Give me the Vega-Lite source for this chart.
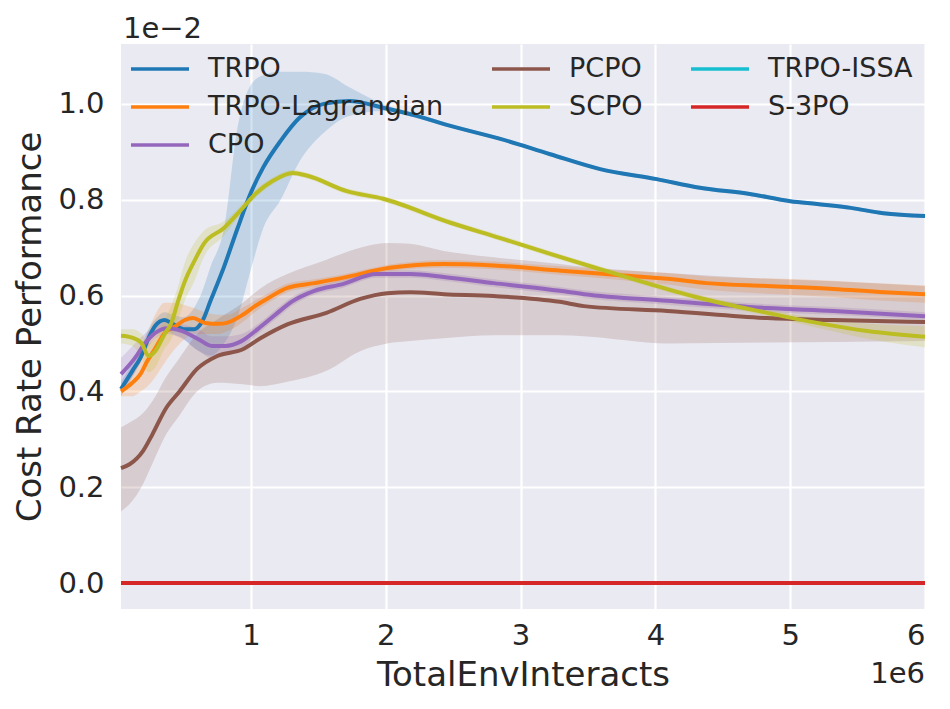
{
  "$schema": "https://vega.github.io/schema/vega-lite/v6.json",
  "width": 804,
  "height": 565,
  "autosize": {"type": "none"},
  "padding": {"left": 121, "top": 44, "right": 25, "bottom": 100},
  "background": "#ffffff",
  "datasets": {
    "runs": [
      {"s": "TRPO", "x": 0.036, "y": 0.405, "lo": 0.39, "hi": 0.42},
      {"s": "TRPO", "x": 0.12, "y": 0.443, "lo": 0.43, "hi": 0.46},
      {"s": "TRPO", "x": 0.18, "y": 0.47, "lo": 0.46, "hi": 0.49},
      {"s": "TRPO", "x": 0.24, "y": 0.511, "lo": 0.5, "hi": 0.53},
      {"s": "TRPO", "x": 0.29, "y": 0.537, "lo": 0.52, "hi": 0.55},
      {"s": "TRPO", "x": 0.36, "y": 0.549, "lo": 0.53, "hi": 0.565},
      {"s": "TRPO", "x": 0.42, "y": 0.541, "lo": 0.52, "hi": 0.56},
      {"s": "TRPO", "x": 0.5, "y": 0.53, "lo": 0.51, "hi": 0.555},
      {"s": "TRPO", "x": 0.58, "y": 0.53, "lo": 0.49, "hi": 0.575},
      {"s": "TRPO", "x": 0.64, "y": 0.547, "lo": 0.48, "hi": 0.61},
      {"s": "TRPO", "x": 0.7, "y": 0.589, "lo": 0.475, "hi": 0.66},
      {"s": "TRPO", "x": 0.8, "y": 0.66, "lo": 0.5, "hi": 0.74},
      {"s": "TRPO", "x": 0.9, "y": 0.74, "lo": 0.555, "hi": 0.95},
      {"s": "TRPO", "x": 1.0, "y": 0.815, "lo": 0.655, "hi": 1.04},
      {"s": "TRPO", "x": 1.09, "y": 0.867, "lo": 0.74, "hi": 1.06},
      {"s": "TRPO", "x": 1.22, "y": 0.923, "lo": 0.8, "hi": 1.067},
      {"s": "TRPO", "x": 1.36, "y": 0.971, "lo": 0.88, "hi": 1.067},
      {"s": "TRPO", "x": 1.54, "y": 1.0, "lo": 0.94, "hi": 1.063},
      {"s": "TRPO", "x": 1.73, "y": 1.006, "lo": 0.975, "hi": 1.035},
      {"s": "TRPO", "x": 1.98, "y": 0.992, "lo": 0.985, "hi": 1.0},
      {"s": "TRPO", "x": 2.23, "y": 0.975, "lo": 0.97, "hi": 0.98},
      {"s": "TRPO", "x": 2.48, "y": 0.954, "lo": 0.95, "hi": 0.958},
      {"s": "TRPO", "x": 2.85, "y": 0.927, "lo": 0.923, "hi": 0.931},
      {"s": "TRPO", "x": 3.22, "y": 0.895, "lo": 0.891, "hi": 0.899},
      {"s": "TRPO", "x": 3.59, "y": 0.864, "lo": 0.86, "hi": 0.868},
      {"s": "TRPO", "x": 4.01, "y": 0.843, "lo": 0.839, "hi": 0.847},
      {"s": "TRPO", "x": 4.33, "y": 0.825, "lo": 0.821, "hi": 0.829},
      {"s": "TRPO", "x": 4.7, "y": 0.812, "lo": 0.808, "hi": 0.816},
      {"s": "TRPO", "x": 5.0, "y": 0.797, "lo": 0.793, "hi": 0.801},
      {"s": "TRPO", "x": 5.2, "y": 0.791, "lo": 0.787, "hi": 0.795},
      {"s": "TRPO", "x": 5.45, "y": 0.783, "lo": 0.779, "hi": 0.787},
      {"s": "TRPO", "x": 5.69, "y": 0.772, "lo": 0.768, "hi": 0.776},
      {"s": "TRPO", "x": 6.0, "y": 0.766, "lo": 0.762, "hi": 0.77},

      {"s": "TRPO-Lagrangian", "x": 0.036, "y": 0.4, "lo": 0.39, "hi": 0.41},
      {"s": "TRPO-Lagrangian", "x": 0.12, "y": 0.418, "lo": 0.39, "hi": 0.45},
      {"s": "TRPO-Lagrangian", "x": 0.18, "y": 0.436, "lo": 0.4, "hi": 0.48},
      {"s": "TRPO-Lagrangian", "x": 0.23, "y": 0.463, "lo": 0.41, "hi": 0.52},
      {"s": "TRPO-Lagrangian", "x": 0.29, "y": 0.49, "lo": 0.43, "hi": 0.56},
      {"s": "TRPO-Lagrangian", "x": 0.36, "y": 0.522, "lo": 0.46, "hi": 0.585},
      {"s": "TRPO-Lagrangian", "x": 0.44, "y": 0.536, "lo": 0.49, "hi": 0.585},
      {"s": "TRPO-Lagrangian", "x": 0.51, "y": 0.549, "lo": 0.51, "hi": 0.58},
      {"s": "TRPO-Lagrangian", "x": 0.57, "y": 0.553, "lo": 0.52, "hi": 0.575},
      {"s": "TRPO-Lagrangian", "x": 0.66, "y": 0.543, "lo": 0.52, "hi": 0.565},
      {"s": "TRPO-Lagrangian", "x": 0.76, "y": 0.541, "lo": 0.52, "hi": 0.56},
      {"s": "TRPO-Lagrangian", "x": 0.82, "y": 0.543, "lo": 0.525, "hi": 0.56},
      {"s": "TRPO-Lagrangian", "x": 0.94, "y": 0.56, "lo": 0.545, "hi": 0.575},
      {"s": "TRPO-Lagrangian", "x": 1.03, "y": 0.578, "lo": 0.566, "hi": 0.59},
      {"s": "TRPO-Lagrangian", "x": 1.13, "y": 0.595, "lo": 0.585, "hi": 0.605},
      {"s": "TRPO-Lagrangian", "x": 1.27, "y": 0.616, "lo": 0.607, "hi": 0.625},
      {"s": "TRPO-Lagrangian", "x": 1.47, "y": 0.626, "lo": 0.618, "hi": 0.634},
      {"s": "TRPO-Lagrangian", "x": 1.68, "y": 0.637, "lo": 0.63, "hi": 0.644},
      {"s": "TRPO-Lagrangian", "x": 2.03, "y": 0.658, "lo": 0.651, "hi": 0.665},
      {"s": "TRPO-Lagrangian", "x": 2.43, "y": 0.666, "lo": 0.658, "hi": 0.674},
      {"s": "TRPO-Lagrangian", "x": 2.8, "y": 0.663, "lo": 0.655, "hi": 0.671},
      {"s": "TRPO-Lagrangian", "x": 3.3, "y": 0.652, "lo": 0.643, "hi": 0.661},
      {"s": "TRPO-Lagrangian", "x": 3.72, "y": 0.643, "lo": 0.633, "hi": 0.653},
      {"s": "TRPO-Lagrangian", "x": 4.09, "y": 0.635, "lo": 0.623, "hi": 0.647},
      {"s": "TRPO-Lagrangian", "x": 4.38, "y": 0.626, "lo": 0.612, "hi": 0.64},
      {"s": "TRPO-Lagrangian", "x": 4.83, "y": 0.62, "lo": 0.604, "hi": 0.636},
      {"s": "TRPO-Lagrangian", "x": 5.32, "y": 0.614, "lo": 0.597, "hi": 0.631},
      {"s": "TRPO-Lagrangian", "x": 5.7, "y": 0.607, "lo": 0.589, "hi": 0.625},
      {"s": "TRPO-Lagrangian", "x": 6.0, "y": 0.603, "lo": 0.585, "hi": 0.621},

      {"s": "CPO", "x": 0.036, "y": 0.436, "lo": 0.4, "hi": 0.47},
      {"s": "CPO", "x": 0.14, "y": 0.47, "lo": 0.44, "hi": 0.5},
      {"s": "CPO", "x": 0.21, "y": 0.499, "lo": 0.48, "hi": 0.52},
      {"s": "CPO", "x": 0.29, "y": 0.522, "lo": 0.51, "hi": 0.535},
      {"s": "CPO", "x": 0.38, "y": 0.532, "lo": 0.52, "hi": 0.545},
      {"s": "CPO", "x": 0.49, "y": 0.526, "lo": 0.51, "hi": 0.54},
      {"s": "CPO", "x": 0.61, "y": 0.509, "lo": 0.485, "hi": 0.53},
      {"s": "CPO", "x": 0.71, "y": 0.495, "lo": 0.47, "hi": 0.515},
      {"s": "CPO", "x": 0.81, "y": 0.495, "lo": 0.475, "hi": 0.515},
      {"s": "CPO", "x": 0.93, "y": 0.505, "lo": 0.49, "hi": 0.52},
      {"s": "CPO", "x": 1.05, "y": 0.53, "lo": 0.52, "hi": 0.54},
      {"s": "CPO", "x": 1.18, "y": 0.56, "lo": 0.55, "hi": 0.57},
      {"s": "CPO", "x": 1.3, "y": 0.587, "lo": 0.578, "hi": 0.596},
      {"s": "CPO", "x": 1.47, "y": 0.61, "lo": 0.602, "hi": 0.618},
      {"s": "CPO", "x": 1.68, "y": 0.624, "lo": 0.616, "hi": 0.632},
      {"s": "CPO", "x": 1.93, "y": 0.645, "lo": 0.637, "hi": 0.653},
      {"s": "CPO", "x": 2.18, "y": 0.645, "lo": 0.637, "hi": 0.653},
      {"s": "CPO", "x": 2.43, "y": 0.639, "lo": 0.631, "hi": 0.647},
      {"s": "CPO", "x": 2.8, "y": 0.626, "lo": 0.618, "hi": 0.634},
      {"s": "CPO", "x": 3.29, "y": 0.61, "lo": 0.602, "hi": 0.618},
      {"s": "CPO", "x": 3.47, "y": 0.603, "lo": 0.595, "hi": 0.611},
      {"s": "CPO", "x": 4.09, "y": 0.589, "lo": 0.581, "hi": 0.597},
      {"s": "CPO", "x": 4.83, "y": 0.574, "lo": 0.566, "hi": 0.582},
      {"s": "CPO", "x": 5.32, "y": 0.568, "lo": 0.56, "hi": 0.576},
      {"s": "CPO", "x": 6.0, "y": 0.557, "lo": 0.549, "hi": 0.565},

      {"s": "PCPO", "x": 0.036, "y": 0.24, "lo": 0.15, "hi": 0.325},
      {"s": "PCPO", "x": 0.1, "y": 0.248, "lo": 0.165, "hi": 0.335},
      {"s": "PCPO", "x": 0.2, "y": 0.276, "lo": 0.207, "hi": 0.355},
      {"s": "PCPO", "x": 0.27, "y": 0.311, "lo": 0.25, "hi": 0.38},
      {"s": "PCPO", "x": 0.37, "y": 0.365, "lo": 0.31, "hi": 0.43},
      {"s": "PCPO", "x": 0.47, "y": 0.4, "lo": 0.35, "hi": 0.47},
      {"s": "PCPO", "x": 0.6, "y": 0.447, "lo": 0.4, "hi": 0.52},
      {"s": "PCPO", "x": 0.75, "y": 0.474, "lo": 0.418, "hi": 0.55},
      {"s": "PCPO", "x": 0.94, "y": 0.488, "lo": 0.415, "hi": 0.585},
      {"s": "PCPO", "x": 1.07, "y": 0.511, "lo": 0.411, "hi": 0.615},
      {"s": "PCPO", "x": 1.27, "y": 0.54, "lo": 0.42, "hi": 0.645},
      {"s": "PCPO", "x": 1.56, "y": 0.564, "lo": 0.443, "hi": 0.675},
      {"s": "PCPO", "x": 1.81, "y": 0.593, "lo": 0.484, "hi": 0.7},
      {"s": "PCPO", "x": 2.01, "y": 0.605, "lo": 0.5, "hi": 0.71},
      {"s": "PCPO", "x": 2.18, "y": 0.607, "lo": 0.505, "hi": 0.708},
      {"s": "PCPO", "x": 2.43, "y": 0.603, "lo": 0.511, "hi": 0.693},
      {"s": "PCPO", "x": 2.8, "y": 0.599, "lo": 0.517, "hi": 0.68},
      {"s": "PCPO", "x": 3.29, "y": 0.587, "lo": 0.517, "hi": 0.666},
      {"s": "PCPO", "x": 3.47, "y": 0.578, "lo": 0.515, "hi": 0.66},
      {"s": "PCPO", "x": 4.09, "y": 0.568, "lo": 0.5, "hi": 0.647},
      {"s": "PCPO", "x": 4.83, "y": 0.553, "lo": 0.502, "hi": 0.635},
      {"s": "PCPO", "x": 5.32, "y": 0.549, "lo": 0.503, "hi": 0.63},
      {"s": "PCPO", "x": 6.0, "y": 0.545, "lo": 0.505, "hi": 0.62},

      {"s": "SCPO", "x": 0.036, "y": 0.516, "lo": 0.5, "hi": 0.53},
      {"s": "SCPO", "x": 0.12, "y": 0.512, "lo": 0.495, "hi": 0.53},
      {"s": "SCPO", "x": 0.19, "y": 0.5, "lo": 0.47, "hi": 0.52},
      {"s": "SCPO", "x": 0.24, "y": 0.474, "lo": 0.44, "hi": 0.5},
      {"s": "SCPO", "x": 0.29, "y": 0.484, "lo": 0.45, "hi": 0.51},
      {"s": "SCPO", "x": 0.36, "y": 0.52, "lo": 0.49, "hi": 0.55},
      {"s": "SCPO", "x": 0.41, "y": 0.543, "lo": 0.51, "hi": 0.58},
      {"s": "SCPO", "x": 0.46, "y": 0.589, "lo": 0.55, "hi": 0.62},
      {"s": "SCPO", "x": 0.51, "y": 0.63, "lo": 0.59, "hi": 0.67},
      {"s": "SCPO", "x": 0.58, "y": 0.672, "lo": 0.63, "hi": 0.71},
      {"s": "SCPO", "x": 0.65, "y": 0.708, "lo": 0.68, "hi": 0.735},
      {"s": "SCPO", "x": 0.8, "y": 0.741, "lo": 0.725, "hi": 0.755},
      {"s": "SCPO", "x": 0.92, "y": 0.777, "lo": 0.768, "hi": 0.786},
      {"s": "SCPO", "x": 1.04, "y": 0.814, "lo": 0.806, "hi": 0.822},
      {"s": "SCPO", "x": 1.16, "y": 0.839, "lo": 0.832, "hi": 0.846},
      {"s": "SCPO", "x": 1.31, "y": 0.856, "lo": 0.85, "hi": 0.862},
      {"s": "SCPO", "x": 1.42, "y": 0.85, "lo": 0.844, "hi": 0.856},
      {"s": "SCPO", "x": 1.71, "y": 0.818, "lo": 0.812, "hi": 0.824},
      {"s": "SCPO", "x": 1.98, "y": 0.802, "lo": 0.796, "hi": 0.808},
      {"s": "SCPO", "x": 2.48, "y": 0.752, "lo": 0.746, "hi": 0.758},
      {"s": "SCPO", "x": 2.85, "y": 0.72, "lo": 0.714, "hi": 0.726},
      {"s": "SCPO", "x": 3.22, "y": 0.687, "lo": 0.681, "hi": 0.693},
      {"s": "SCPO", "x": 3.59, "y": 0.655, "lo": 0.649, "hi": 0.661},
      {"s": "SCPO", "x": 3.96, "y": 0.624, "lo": 0.618, "hi": 0.63},
      {"s": "SCPO", "x": 4.33, "y": 0.595, "lo": 0.589, "hi": 0.601},
      {"s": "SCPO", "x": 4.83, "y": 0.564, "lo": 0.557, "hi": 0.571},
      {"s": "SCPO", "x": 5.2, "y": 0.543, "lo": 0.533, "hi": 0.553},
      {"s": "SCPO", "x": 5.57, "y": 0.526, "lo": 0.51, "hi": 0.542},
      {"s": "SCPO", "x": 6.0, "y": 0.514, "lo": 0.492, "hi": 0.536},

      {"s": "TRPO-ISSA", "x": 0.036, "y": 0.0, "lo": 0.0, "hi": 0.0},
      {"s": "TRPO-ISSA", "x": 6.0, "y": 0.0, "lo": 0.0, "hi": 0.0},

      {"s": "S-3PO", "x": 0.036, "y": 0.0, "lo": 0.0, "hi": 0.0},
      {"s": "S-3PO", "x": 6.0, "y": 0.0, "lo": 0.0, "hi": 0.0}
    ],
    "xnote": [{"label": "1e6", "x": 6.0, "y": -0.054}],
    "ynote": [{"label": "1e−2", "x": 0.036, "y": 1.125}]
  },
  "data": {"name": "runs"},
  "encoding": {
    "x": {
      "field": "x",
      "type": "quantitative",
      "scale": {"domain": [0.036, 6.0], "nice": false, "zero": false},
      "axis": {
        "values": [1, 2, 3, 4, 5, 6],
        "format": "d",
        "title": "TotalEnvInteracts",
        "labelPadding": 12,
        "titlePadding": 8
      }
    },
    "y": {
      "field": "y",
      "type": "quantitative",
      "scale": {"domain": [-0.054, 1.125], "nice": false, "zero": false},
      "axis": {
        "values": [0, 0.2, 0.4, 0.6, 0.8, 1.0],
        "format": ".1f",
        "title": "Cost Rate Performance",
        "labelPadding": 17,
        "titlePadding": 10
      }
    }
  },
  "layer": [
    {
      "transform": [{"filter": "datum.s != 'S-3PO' && datum.s != 'TRPO-ISSA'"}],
      "mark": {"type": "area", "opacity": 0.2, "interpolate": "monotone"},
      "encoding": {
        "y": {"field": "lo", "type": "quantitative"},
        "y2": {"field": "hi"},
        "fill": {
          "field": "s",
          "type": "nominal",
          "legend": null,
          "scale": {
            "domain": ["TRPO", "PCPO", "TRPO-Lagrangian", "SCPO", "CPO"],
            "range": ["#1f77b4", "#8c564b", "#ff7f0e", "#bcbd22", "#9467bd"]
          }
        }
      }
    },
    {
      "transform": [{"filter": "datum.s != 'S-3PO'"}],
      "mark": {"type": "line", "strokeWidth": 4, "interpolate": "monotone"},
      "encoding": {
        "stroke": {
          "field": "s",
          "type": "nominal",
          "scale": {
            "domain": ["TRPO", "TRPO-Lagrangian", "S-3PO", "PCPO", "SCPO", "CPO", "TRPO-ISSA"],
            "range": ["#1f77b4", "#ff7f0e", "#d62728", "#8c564b", "#bcbd22", "#9467bd", "#17becf"]
          },
          "legend": {
            "orient": "none",
            "legendX": 8,
            "legendY": 10,
            "padding": 0,
            "columns": 3,
            "title": null,
            "symbolType": "stroke",
            "symbolSize": 3364,
            "symbolStrokeWidth": 3.5,
            "clipHeight": 30,
            "labelFontSize": 27,
            "labelOffset": 17,
            "columnPadding": 46,
            "rowPadding": 8,
            "labelLimit": 400
          }
        }
      }
    },
    {
      "transform": [{"filter": "datum.s == 'S-3PO'"}],
      "mark": {"type": "line", "strokeWidth": 4},
      "encoding": {
        "stroke": {
          "field": "s",
          "type": "nominal",
          "scale": {
            "domain": ["TRPO", "TRPO-Lagrangian", "S-3PO", "PCPO", "SCPO", "CPO", "TRPO-ISSA"],
            "range": ["#1f77b4", "#ff7f0e", "#d62728", "#8c564b", "#bcbd22", "#9467bd", "#17becf"]
          }
        }
      }
    },
    {
      "data": {"name": "xnote"},
      "mark": {
        "type": "text",
        "align": "right",
        "baseline": "alphabetic",
        "dy": 74,
        "fontSize": 29,
        "color": "#262626"
      },
      "encoding": {
        "text": {"field": "label"},
        "x": {"field": "x", "type": "quantitative"},
        "y": {"field": "y", "type": "quantitative"}
      }
    },
    {
      "data": {"name": "ynote"},
      "mark": {
        "type": "text",
        "align": "left",
        "baseline": "alphabetic",
        "dy": -6,
        "dx": 2,
        "fontSize": 29,
        "color": "#262626"
      },
      "encoding": {
        "text": {"field": "label"},
        "x": {"field": "x", "type": "quantitative"},
        "y": {"field": "y", "type": "quantitative"}
      }
    }
  ],
  "config": {
    "font": "DejaVu Sans",
    "view": {"fill": "#eaeaf2", "stroke": null},
    "axis": {
      "domain": false,
      "ticks": false,
      "grid": true,
      "gridColor": "#ffffff",
      "gridWidth": 2.2,
      "labelFont": "DejaVu Sans",
      "labelFontSize": 29,
      "labelColor": "#262626",
      "titleFont": "DejaVu Sans",
      "titleFontSize": 34,
      "titleFontWeight": "normal",
      "titleColor": "#262626"
    },
    "legend": {
      "labelFont": "DejaVu Sans",
      "labelColor": "#262626"
    },
    "text": {"font": "DejaVu Sans"}
  }
}
